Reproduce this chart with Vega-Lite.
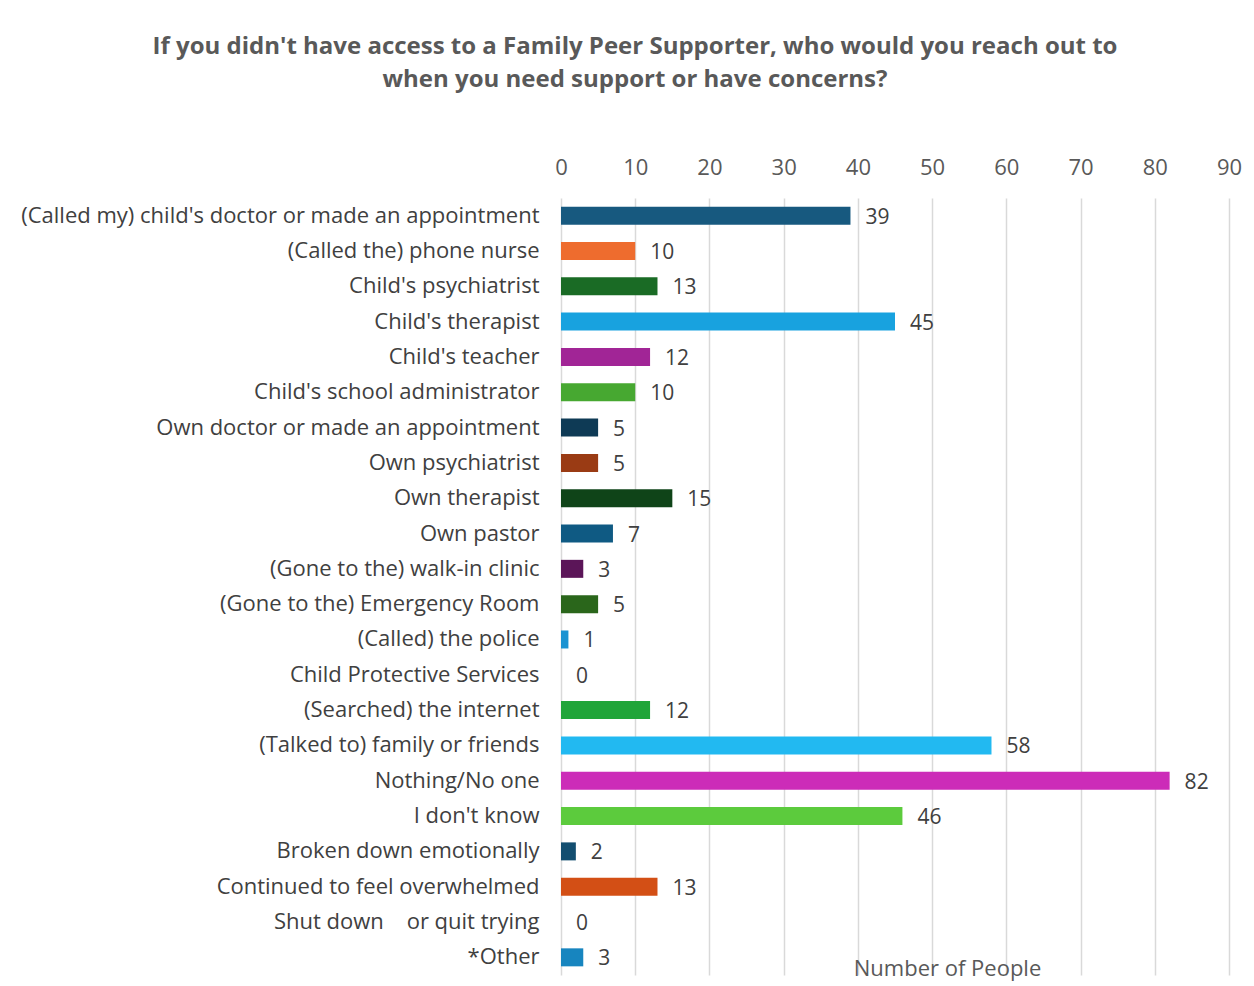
{
  "$schema": "https://vega.github.io/schema/vega-lite/v6.json",
  "width": 668,
  "height": 777,
  "autosize": {"type": "none"},
  "padding": {"left": 561, "top": 198, "right": 25, "bottom": 11},
  "background": "white",
  "config": {"view": {"stroke": null}},
  "title": {
    "text": ["If you didn't have access to a Family Peer Supporter, who would you reach out to", "when you need support or have concerns?"],
    "font": "Open Sans",
    "fontSize": 24,
    "fontWeight": "bold",
    "color": "#595959",
    "anchor": "middle",
    "frame": "group",
    "dx": -260,
    "offset": 64,
    "lineHeight": 33
  },
  "data": {
    "values": [
      {"response": "(Called my) child's doctor or made an appointment", "people": 39},
      {"response": "(Called the) phone nurse", "people": 10},
      {"response": "Child's psychiatrist", "people": 13},
      {"response": "Child's therapist", "people": 45},
      {"response": "Child's teacher", "people": 12},
      {"response": "Child's school administrator", "people": 10},
      {"response": "Own doctor or made an appointment", "people": 5},
      {"response": "Own psychiatrist", "people": 5},
      {"response": "Own therapist", "people": 15},
      {"response": "Own pastor", "people": 7},
      {"response": "(Gone to the) walk-in clinic", "people": 3},
      {"response": "(Gone to the) Emergency Room", "people": 5},
      {"response": "(Called) the police", "people": 1},
      {"response": "Child Protective Services", "people": 0},
      {"response": "(Searched) the internet", "people": 12},
      {"response": "(Talked to) family or friends", "people": 58},
      {"response": "Nothing/No one", "people": 82},
      {"response": "I don't know", "people": 46},
      {"response": "Broken down emotionally", "people": 2},
      {"response": "Continued to feel overwhelmed", "people": 13},
      {"response": "Shut down\u00a0\u00a0\u00a0\u00a0or quit trying", "people": 0},
      {"response": "*Other", "people": 3}
    ]
  },
  "encoding": {
    "y": {
      "field": "response",
      "type": "nominal",
      "sort": null,
      "scale": {"paddingInner": 0.49, "paddingOuter": 0.245},
      "axis": {
        "title": null,
        "ticks": false,
        "domain": false,
        "labelFont": "Open Sans",
        "labelFontSize": 22,
        "labelColor": "#404040",
        "labelPadding": 22,
        "labelLimit": 700
      }
    },
    "x": {
      "field": "people",
      "type": "quantitative",
      "scale": {"domain": [0, 90], "nice": false}
    }
  },
  "layer": [
    {
      "mark": {"type": "bar", "size": 18},
      "encoding": {
        "x": {
          "field": "people",
          "type": "quantitative",
          "scale": {"domain": [0, 90], "nice": false},
          "axis": {
            "orient": "top",
            "values": [0, 10, 20, 30, 40, 50, 60, 70, 80, 90],
            "grid": true,
            "gridColor": "#d9d9d9",
            "gridWidth": 1.5,
            "ticks": false,
            "domain": false,
            "labelFlush": false,
            "labelFont": "Open Sans",
            "labelFontSize": 22,
            "labelColor": "#595959",
            "labelPadding": 19,
            "title": null
          }
        },
        "color": {
          "field": "response",
          "type": "nominal",
          "legend": null,
          "scale": {
            "domain": [
              "(Called my) child's doctor or made an appointment",
              "(Called the) phone nurse",
              "Child's psychiatrist",
              "Child's therapist",
              "Child's teacher",
              "Child's school administrator",
              "Own doctor or made an appointment",
              "Own psychiatrist",
              "Own therapist",
              "Own pastor",
              "(Gone to the) walk-in clinic",
              "(Gone to the) Emergency Room",
              "(Called) the police",
              "Child Protective Services",
              "(Searched) the internet",
              "(Talked to) family or friends",
              "Nothing/No one",
              "I don't know",
              "Broken down emotionally",
              "Continued to feel overwhelmed",
              "Shut down\u00a0\u00a0\u00a0\u00a0or quit trying",
              "*Other"
            ],
            "range": [
              "#17597f", "#ee6c2e", "#1a6b25", "#18a2df", "#a12596", "#47a831",
              "#0e3a55", "#9a3b14", "#0f4418", "#0f5a83", "#5b1558", "#2a661b",
              "#1b93d2", "#1b93d2", "#20a539", "#22b9f1", "#cc2cb8", "#5ccb3d",
              "#134e70", "#d34f15", "#d34f15", "#1785bf"
            ]
          }
        }
      }
    },
    {
      "mark": {"type": "text", "align": "left", "dx": 15, "dy": 2, "baseline": "middle", "font": "Open Sans", "fontSize": 21, "color": "#404040"},
      "encoding": {
        "x": {
          "field": "people",
          "type": "quantitative",
          "scale": {"domain": [0, 90], "nice": false},
          "axis": {
            "orient": "bottom",
            "labels": false,
            "grid": false,
            "ticks": false,
            "domain": false,
            "title": "Number of People",
            "titleFont": "Open Sans",
            "titleFontSize": 22,
            "titleFontWeight": "normal",
            "titleColor": "#595959",
            "titleX": 386,
            "titleY": 0,
            "titleAlign": "center",
            "titleBaseline": "alphabetic"
          }
        },
        "text": {"field": "people", "type": "quantitative"}
      }
    }
  ],
  "resolve": {"axis": {"x": "independent"}}
}
